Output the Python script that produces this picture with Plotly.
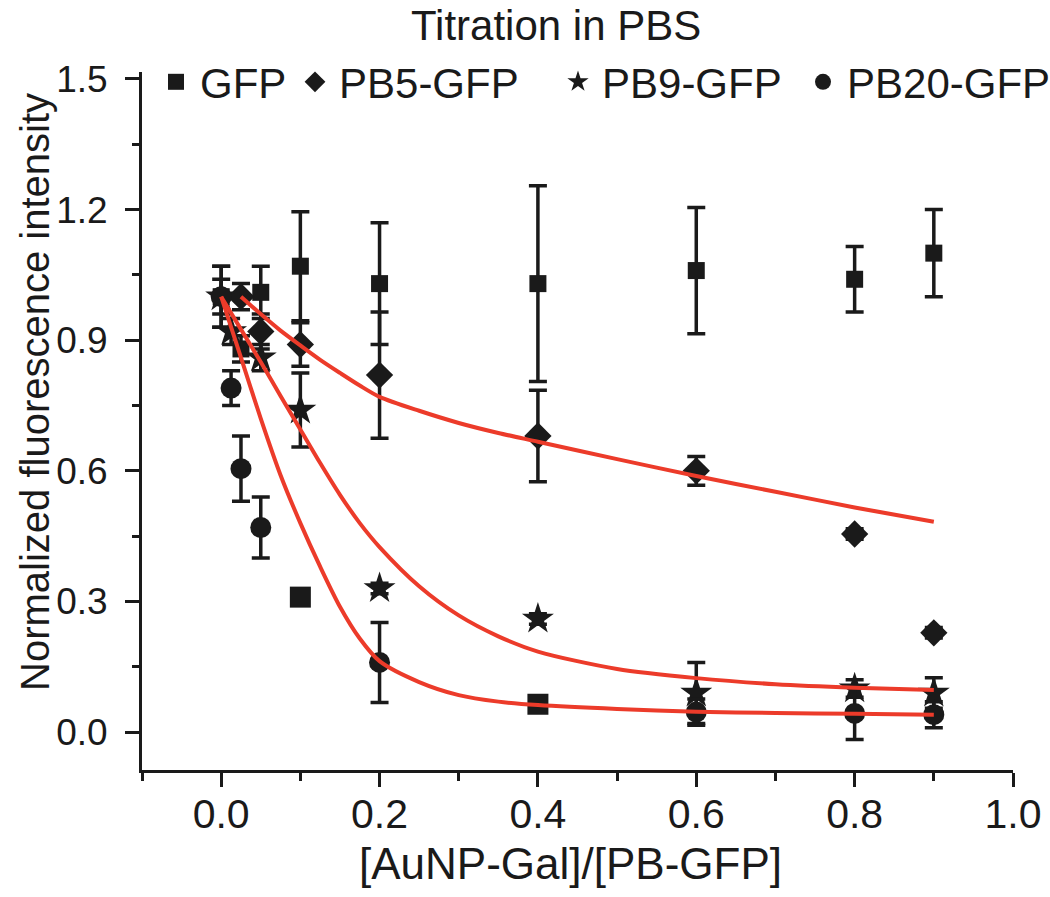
import plotly.graph_objects as go

# ---------------- data ----------------
GFP_X = [0, 0.025, 0.05, 0.1, 0.2, 0.4, 0.6, 0.8, 0.9]
GFP_Y = [1.00, 0.88, 1.01, 1.07, 1.03, 1.03, 1.06, 1.04, 1.10]
GFP_E = [0.07, 0.03, 0.06, 0.125, 0.14, 0.225, 0.145, 0.075, 0.10]

PB5_X = [0.025, 0.05, 0.1, 0.2, 0.4, 0.6, 0.8, 0.9]
PB5_Y = [1.00, 0.92, 0.89, 0.82, 0.68, 0.60, 0.455, 0.228]
PB5_E = [0.03, 0.04, 0.05, 0.145, 0.105, 0.033, 0.012, 0.012]

PB9_X = [0, 0.0125, 0.05, 0.1, 0.2, 0.4, 0.6, 0.8, 0.9]
PB9_Y = [1.00, 0.92, 0.86, 0.74, 0.33, 0.26, 0.09, 0.10, 0.09]
PB9_E = [0.07, 0.03, 0.03, 0.085, 0.012, 0.012, 0.07, 0.02, 0.035]

PB20_X = [0, 0.0125, 0.025, 0.05, 0.1, 0.2, 0.4, 0.6, 0.8, 0.9]
PB20_Y = [1.00, 0.79, 0.605, 0.47, 0.31, 0.16, 0.064, 0.046, 0.043, 0.04]
PB20_E = [0.04, 0.04, 0.075, 0.07, 0.015, 0.092, 0.012, 0.03, 0.06, 0.03]

# fitted curves
FIT_X = [0, 0.025, 0.05, 0.075, 0.1, 0.125, 0.15, 0.175, 0.2, 0.25, 0.3,
         0.35, 0.4, 0.5, 0.6, 0.7, 0.8, 0.9]
PB5_FIT_X = FIT_X[1:]
PB5_FIT = [1.0, 0.96, 0.922, 0.888, 0.855, 0.825, 0.796, 0.77, 0.738, 0.71,
           0.687, 0.667, 0.627, 0.588, 0.552, 0.516, 0.483]
PB9_FIT = [1.0, 0.925, 0.85, 0.772, 0.695, 0.618, 0.545, 0.48, 0.425, 0.335,
           0.268, 0.22, 0.185, 0.145, 0.124, 0.11, 0.102, 0.097]
PB20_FIT = [1.0, 0.86, 0.72, 0.59, 0.48, 0.38, 0.288, 0.215, 0.163, 0.115, 0.085,
            0.07, 0.062, 0.053, 0.047, 0.044, 0.042, 0.04]

X_TICKS = [0.0, 0.2, 0.4, 0.6, 0.8, 1.0]
Y_TICKS = [0.0, 0.3, 0.6, 0.9, 1.2, 1.5]

TITLE = "Titration in PBS"
X_TITLE = "[AuNP-Gal]/[PB-GFP]"
Y_TITLE = "Normalized fluorescence intensity"

# ---------------- style ----------------
INK = "#1a1a1a"
RED = "#ec3b2a"
FONT = "Liberation Sans, Arial, sans-serif"
W, H = 1050, 897
ML, MR, MT, MB = 142, 37, 72, 127
PW, PH = W - ML - MR, H - MB - MT


def px_x(X):
    """picture pixel x -> paper fraction"""
    return (X - ML) / PW


def px_y(Y):
    """picture pixel y -> paper fraction"""
    return (H - MB - Y) / PH


PB20_SYMBOLS = ["circle"] * len(PB20_X)
PB20_SYMBOLS[4] = "square"
PB20_SYMBOLS[6] = "square"

series = [
    ("GFP", GFP_X, GFP_Y, GFP_E, "square", 17, "legend"),
    ("PB5-GFP", PB5_X, PB5_Y, PB5_E, "diamond", 21, "legend2"),
    ("PB9-GFP", PB9_X, PB9_Y, PB9_E, "star", 24, "legend3"),
    ("PB20-GFP", PB20_X, PB20_Y, PB20_E, PB20_SYMBOLS, 21, "legend4"),
]

fig = go.Figure()
for name, xs, ys, es, sym, size, leg in series:
    fig.add_trace(go.Scatter(
        x=xs, y=ys, name=name, mode="markers", legend=leg,
        marker=dict(symbol=sym, size=size, color=INK, line=dict(width=0)),
        error_y=dict(type="data", array=es, visible=True, color=INK,
                     thickness=3.5, width=9),
    ))

for fx, fy in [(PB5_FIT_X, PB5_FIT), (FIT_X, PB9_FIT), (FIT_X, PB20_FIT)]:
    fig.add_trace(go.Scatter(
        x=fx, y=fy, mode="lines", showlegend=False, hoverinfo="skip",
        line=dict(color=RED, width=4, shape="spline", smoothing=0.8),
    ))

axis_common = dict(
    showline=True, linewidth=3, linecolor=INK, mirror=False,
    ticks="outside", tickwidth=3, tickcolor=INK, ticklen=14,
    showgrid=False, zeroline=False, tickformat=".1f",
    tickfont=dict(family=FONT, color=INK),
)

fig.update_xaxes(
    **axis_common, range=[-0.1, 1.0], tickvals=X_TICKS,
    minor=dict(dtick=0.1, tick0=0, ticks="outside", ticklen=8, tickwidth=3,
               tickcolor=INK, showgrid=False),
)
fig.update_xaxes(tickfont_size=41, ticklabelstandoff=-8)
fig.update_yaxes(
    **axis_common, range=[-0.087, 1.516], tickvals=Y_TICKS,
    minor=dict(dtick=0.15, tick0=0, ticks="outside", ticklen=7, tickwidth=3,
               tickcolor=INK, showgrid=False),
)
fig.update_yaxes(tickfont_size=37, ticklabelstandoff=10)

legend_centers = [178, 317, 580, 825]
leg_common = dict(
    orientation="h", xanchor="left", yanchor="middle",
    y=px_y(82), font=dict(family=FONT, size=42, color=INK),
    bgcolor="rgba(0,0,0,0)", borderwidth=0, itemsizing="trace",
    tracegroupgap=0, itemwidth=38,
)
legs = {}
for i, c in enumerate(legend_centers):
    key = "legend" if i == 0 else f"legend{i + 1}"
    legs[key] = dict(leg_common, x=px_x(c - 26))

fig.update_layout(
    width=W, height=H,
    margin=dict(l=ML, r=MR, t=MT, b=MB, autoexpand=False),
    paper_bgcolor="white", plot_bgcolor="white",
    font=dict(family=FONT, color=INK),
    **legs,
    annotations=[
        dict(text=TITLE, xref="paper", yref="paper", x=px_x(556), y=px_y(0),
             xanchor="center", yanchor="top", showarrow=False,
             font=dict(family=FONT, size=42, color=INK)),
        dict(text=X_TITLE, xref="paper", yref="paper", x=px_x(570), y=px_y(863),
             xanchor="center", yanchor="middle", showarrow=False,
             font=dict(family=FONT, size=44, color=INK)),
        dict(text=Y_TITLE, xref="paper", yref="paper", x=px_x(35), y=px_y(392),
             xanchor="center", yanchor="middle", showarrow=False, textangle=-90,
             font=dict(family=FONT, size=40, color=INK)),
    ],
)

fig.write_html(
    "out.html",
    config={"displayModeBar": False},
    post_script="document.body.style.margin='0';document.body.style.overflow='hidden';",
)
